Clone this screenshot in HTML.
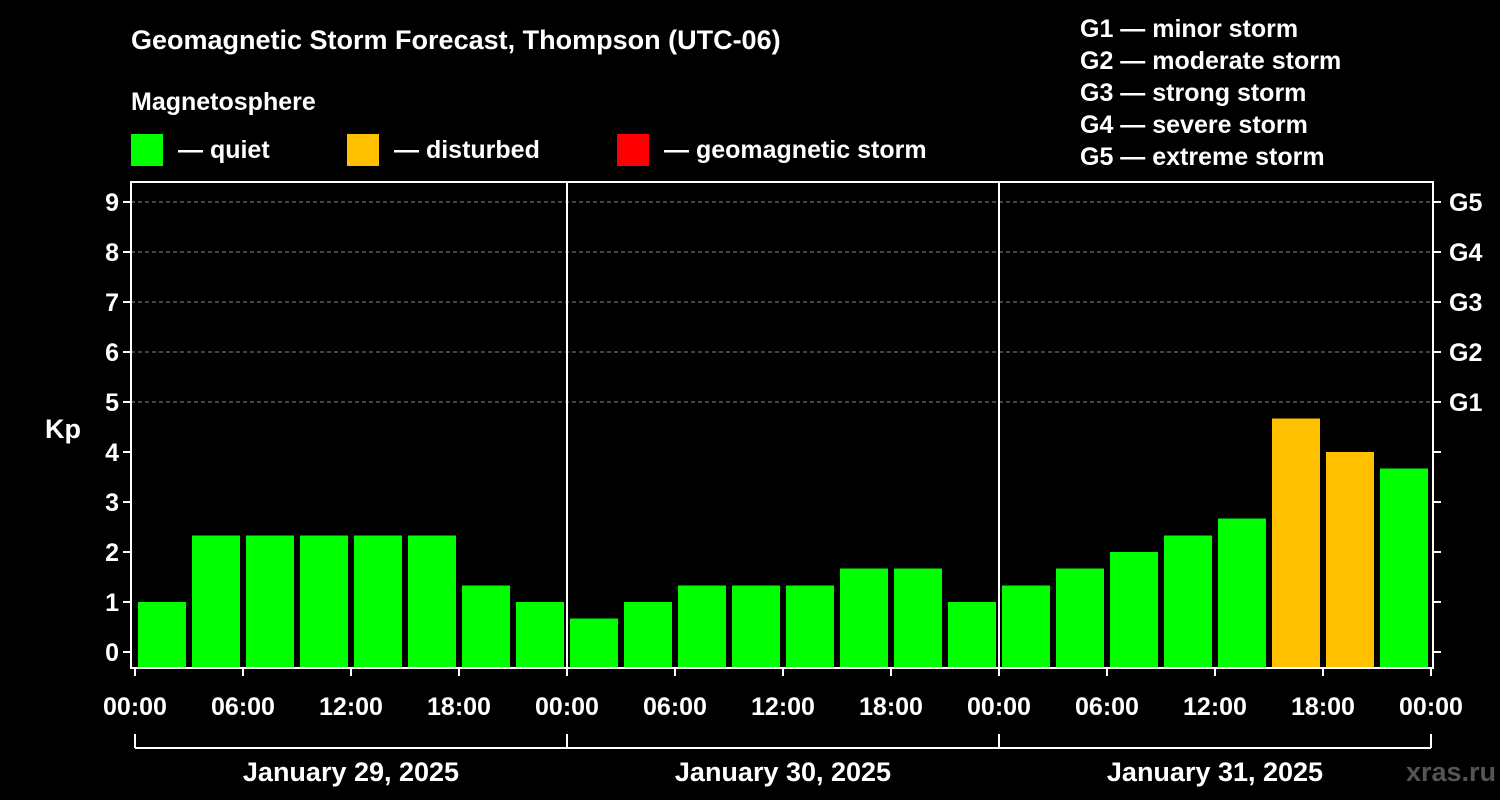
<!DOCTYPE html>
<html><head><meta charset="utf-8"><style>
body{margin:0;background:#000;}
svg{display:block;font-family:"Liberation Sans",sans-serif;font-weight:bold;}
</style></head><body>
<svg id="c" width="1500" height="800" viewBox="0 0 1500 800">
<rect width="1500" height="800" fill="#000"/>
<text x="131" y="49" fill="#fff" font-size="27">Geomagnetic Storm Forecast, Thompson (UTC-06)</text>
<text x="131" y="110" fill="#fff" font-size="25">Magnetosphere</text>
<g><rect x="131" y="134" width="32" height="32" fill="#00ff00"/><text x="178" y="158" fill="#fff" font-size="25">— quiet</text></g>
<g><rect x="347" y="134" width="32" height="32" fill="#ffc000"/><text x="394" y="158" fill="#fff" font-size="25">— disturbed</text></g>
<g><rect x="617" y="134" width="32" height="32" fill="#ff0000"/><text x="664" y="158" fill="#fff" font-size="25">— geomagnetic storm</text></g>
<g fill="#fff" font-size="25">
<text x="1080" y="37">G1 — minor storm</text><text x="1080" y="69">G2 — moderate storm</text><text x="1080" y="101">G3 — strong storm</text><text x="1080" y="133">G4 — severe storm</text><text x="1080" y="165">G5 — extreme storm</text>
</g>
<text x="63" y="438" fill="#fff" font-size="27" text-anchor="middle">Kp</text>
<text x="1500" y="781" fill="#555" font-size="27" text-anchor="end" dx="-4">xras.ru</text>
<g id="g"></g>
</svg>
<script>
const kpValues=[1.0,2.33,2.33,2.33,2.33,2.33,1.33,1.0, 0.67,1.0,1.33,1.33,1.33,1.67,1.67,1.0, 1.33,1.67,2.0,2.33,2.67,4.67,4.0,3.67];
const dayLabels=["January 29, 2025","January 30, 2025","January 31, 2025"];
const hourLabels=["00:00","06:00","12:00","18:00"];
const gLabels=["G1","G2","G3","G4","G5"];
const L=131,R=1433,T=182,B=668,X0=135,X1=1431;
const y=v=>652-v*50;
const x=h=>X0+(X1-X0)*h/72;
const NS="http://www.w3.org/2000/svg";
const g=document.getElementById('g');
function mk(t,a,p){const e=document.createElementNS(NS,t);for(const k in a)e.setAttribute(k,a[k]);(p||g).appendChild(e);return e;}
for(let v=5;v<=9;v++){const l=mk('line',{x1:L,x2:R,y1:y(v),y2:y(v),stroke:'#888','stroke-dasharray':'4,3','stroke-width':1});

}
kpValues.forEach((v,i)=>{const r=mk('rect',{x:x(i*3)+3,y:y(v),width:x(3)-x(0)-6,height:B-y(v),fill:v>=5?'#ff0000':(v>=4?'#ffc000':'#00ff00')});

});
for(let d=1;d<3;d++){const l=mk('line',{x1:x(d*24),x2:x(d*24),y1:T,y2:B,stroke:'#fff','stroke-width':2});

}
const fr=mk('rect',{x:L,y:T,width:R-L,height:B-T,fill:'none',stroke:'#fff','stroke-width':2});


for(let v=0;v<=9;v++){
mk('line',{x1:L-8,x2:L,y1:y(v),y2:y(v),stroke:'#fff','stroke-width':2});
mk('line',{x1:R,x2:R+8,y1:y(v),y2:y(v),stroke:'#fff','stroke-width':2});
const t=mk('text',{x:L-12,y:y(v)+9,fill:'#fff','font-size':25,'text-anchor':'end'});t.textContent=v;


if(v>=5){const s=mk('text',{x:R+16,y:y(v)+9,fill:'#fff','font-size':25});s.textContent=gLabels[v-5];

}
}
for(let h=0;h<=72;h+=6){
mk('line',{x1:x(h),x2:x(h),y1:B,y2:B+8,stroke:'#fff','stroke-width':2});
const t=mk('text',{x:x(h),y:715,fill:'#fff','font-size':25,'text-anchor':'middle'});t.textContent=hourLabels[(h/6)%4];


}
mk('line',{x1:X0,x2:X1,y1:748,y2:748,stroke:'#fff','stroke-width':2});
for(let d=0;d<=3;d++)mk('line',{x1:x(d*24),x2:x(d*24),y1:734,y2:748,stroke:'#fff','stroke-width':2});
dayLabels.forEach((s,d)=>{const t=mk('text',{x:x(d*24+12),y:781,fill:'#fff','font-size':27,'text-anchor':'middle'});t.textContent=s;

});
</script>
</body></html>
